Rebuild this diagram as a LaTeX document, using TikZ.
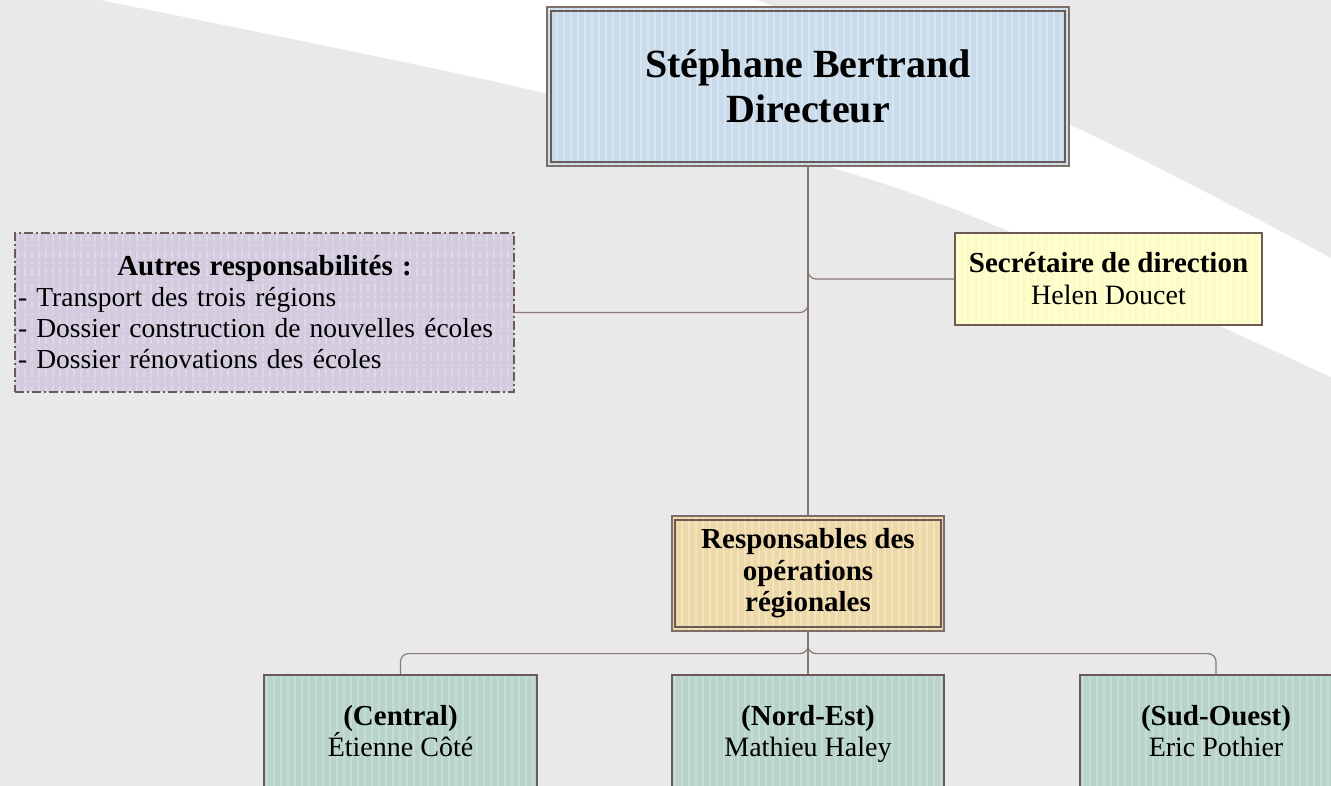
\documentclass[tikz,border=0pt]{standalone}
\usepackage{fontspec}
\setmainfont{Liberation Serif}
\definecolor{bg}{HTML}{E9E9E9}
\definecolor{brd}{HTML}{6B5A55}
\definecolor{brdlt}{HTML}{7E6E6A}
\definecolor{lnk}{HTML}{8A7873}
\definecolor{dirfill}{HTML}{CADCEC}
\definecolor{dirstripe}{HTML}{D7E5F1}
\definecolor{autfill}{HTML}{D3CCDF}
\definecolor{autstripe}{HTML}{DDD7E7}
\definecolor{secfill}{HTML}{FCFCC4}
\definecolor{secstripe}{HTML}{FFFFD8}
\definecolor{resfill}{HTML}{EDD8A8}
\definecolor{resstripe}{HTML}{F3E3BF}
\definecolor{regfill}{HTML}{B8D2CC}
\definecolor{regstripe}{HTML}{C6DCD7}
\newcommand\myb[1]{{\fontsize{29}{32}\selectfont\bfseries #1}}
\begin{document}
\begin{tikzpicture}[x=1pt,y=-1pt,
  box/.style={draw=brd, line width=1.6pt, inner sep=2pt, align=center},
  vstripes/.style={path picture={\foreach \k in {3,10,...,700}{\draw[#1,line width=2.2pt] ([xshift=\k pt]path picture bounding box.north west) -- ([xshift=\k pt]path picture bounding box.south west);}}},
  conn/.style={draw=lnk, line width=1.2pt, rounded corners=8pt},
  innerframe/.style={draw=brd, line width=2pt},
  regbox/.style={box, fill=regfill, vstripes=regstripe, minimum width=272pt, minimum height=121pt,
    font=\fontsize{28}{30.5}\selectfont}
]
\clip (0,0) rectangle (1331,786);
\fill[bg] (0,0) rectangle (1331,786);
\fill[white] plot[smooth] coordinates {(100,0) (510,85) (830,167) (1013,233) (1331,377)}
  -- plot[smooth] coordinates {(1331,258) (1070,125) (757,0)} -- cycle;

% nodes
\node[box, draw=brdlt, line width=1.2pt, fill=dirfill, vstripes=dirstripe,
  minimum width=522pt, minimum height=159pt,
  font=\fontsize{40}{45}\selectfont\bfseries] (dir) at (808,86.5) {Stéphane Bertrand\\Directeur};
\draw[innerframe] ([xshift=5pt,yshift=-5pt]dir.north west) rectangle ([xshift=-5pt,yshift=5pt]dir.south east);

\node[box, line width=1.8pt, dash pattern=on 9pt off 3pt on 2pt off 3pt,
  fill=autfill, vstripes=autstripe, minimum width=499pt, minimum height=159pt,
  text width=493pt, align=left, font=\fontsize{27.5}{31}\selectfont] (aut) at (264.5,312.5)
  {\makebox[\linewidth]{\myb{Autres responsabilités :}}\\- Transport des trois régions\\- Dossier construction de nouvelles écoles\\- Dossier rénovations des écoles};

\node[box, fill=secfill, vstripes=secstripe, minimum width=307pt, minimum height=92pt,
  font=\fontsize{28}{32}\selectfont] (sec) at (1108.5,279) {\myb{Secrétaire de direction}\\Helen Doucet};

\node[box, draw=brdlt, line width=1.2pt, fill=resfill, vstripes=resstripe,
  minimum width=272pt, minimum height=115pt,
  font=\fontsize{29}{31.5}\selectfont\bfseries] (resp) at (808,573.5) {Responsables des\\opérations\\régionales};
\draw[innerframe] ([xshift=4pt,yshift=-5pt]resp.north west) rectangle ([xshift=-4pt,yshift=5pt]resp.south east);

\node[regbox, minimum width=273pt] (cen) at (400.5,735.5) {\myb{(Central)}\\Étienne Côté\strut};
\node[regbox] (nord) at (808,735.5) {\myb{(Nord-Est)}\\Mathieu Haley\strut};
\node[regbox] (sud) at (1216,735.5) {\myb{(Sud-Ouest)}\\Eric Pothier\strut};

% connectors
\draw[conn] (dir.south) -- (resp.north);
\draw[conn] (dir.south) |- (aut.east);
\draw[conn] (dir.south) |- (sec.west);
\draw[conn] (resp.south) -- (nord.north);
\draw[conn] (resp.south) -- ++(0,22) -| (cen.north);
\draw[conn] (resp.south) -- ++(0,22) -| (sud.north);
\end{tikzpicture}
\end{document}
